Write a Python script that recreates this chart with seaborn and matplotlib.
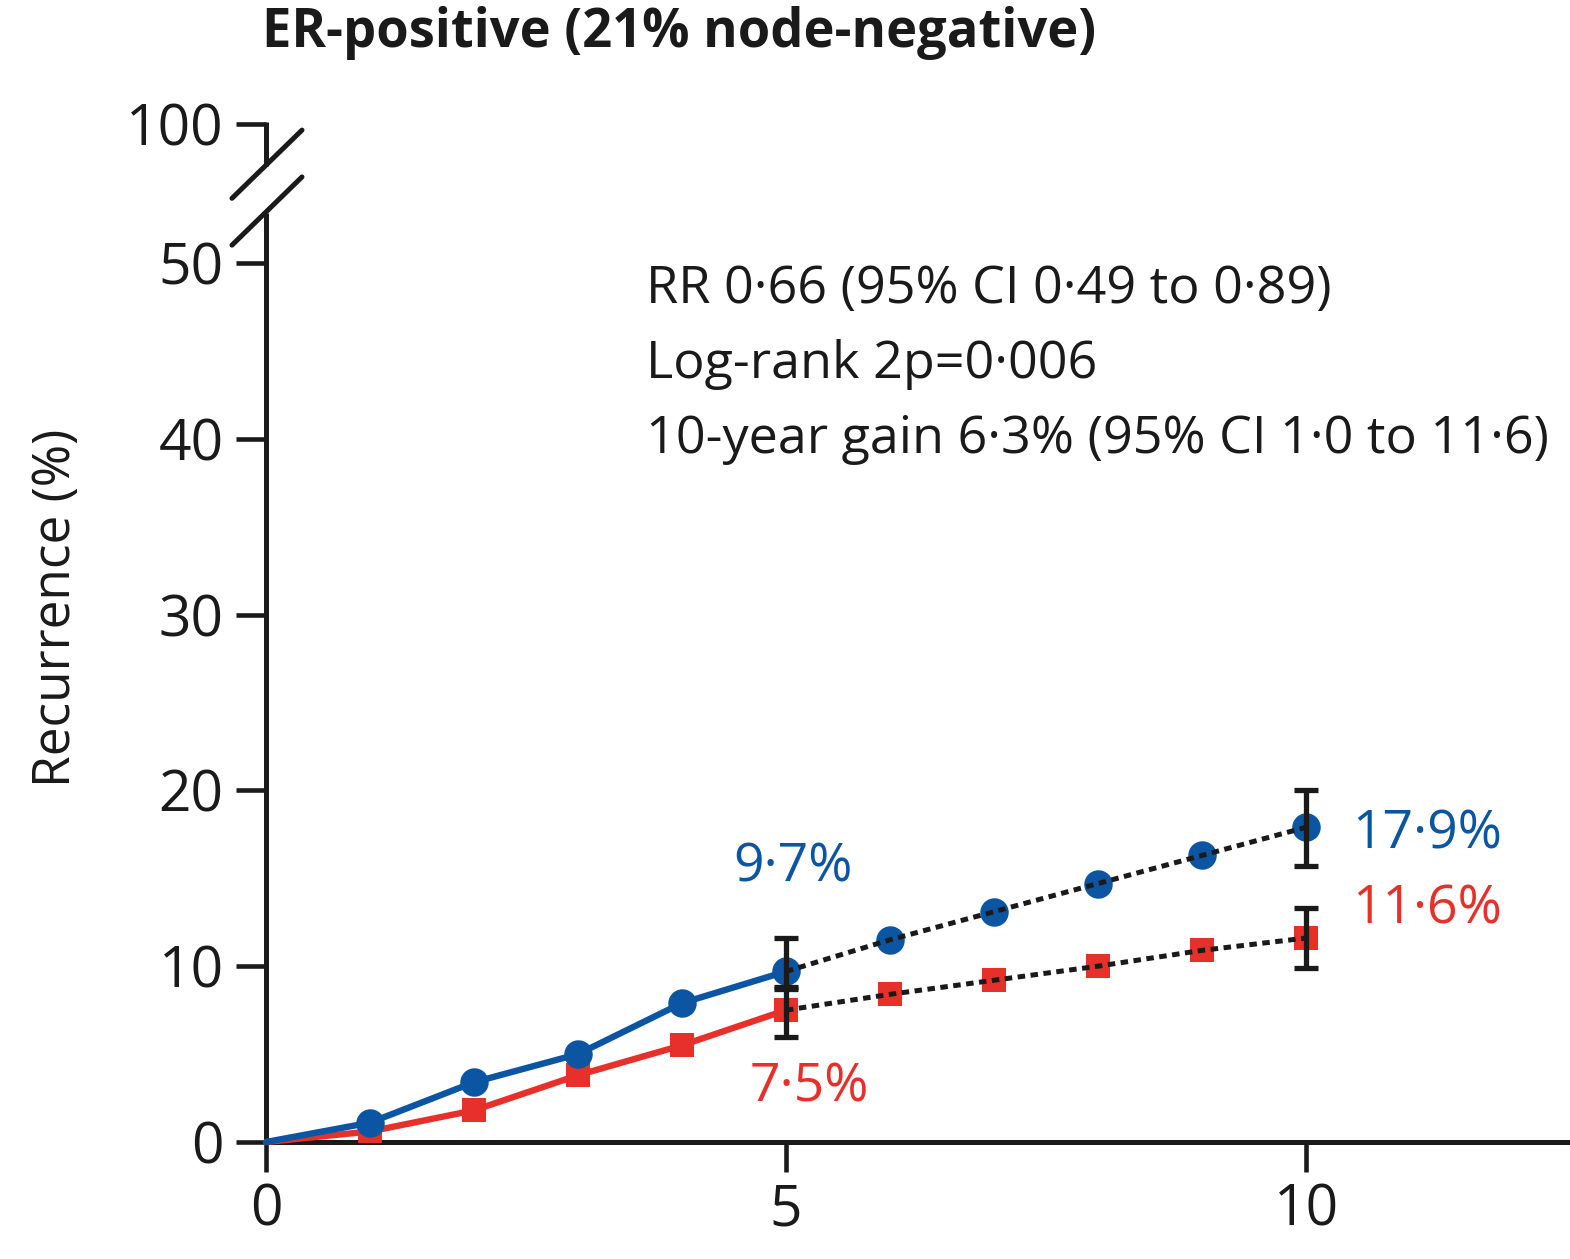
import numpy as np
import pandas as pd
import matplotlib
matplotlib.use("Agg")
import matplotlib.pyplot as plt
import seaborn as sns

# ---- data ----
years = [0, 1, 2, 3, 4, 5, 6, 7, 8, 9, 10]
control = [0, 1.1, 3.4, 5.0, 7.9, 9.7, 11.5, 13.1, 14.7, 16.3, 17.9]
treated = [0, 0.6, 1.8, 3.8, 5.5, 7.5, 8.4, 9.2, 10.0, 10.9, 11.6]
ci_years = [5, 10]
control_ci_low = [8.8, 15.7]
control_ci_high = [11.6, 20.0]
treated_ci_low = [6.0, 9.9]
treated_ci_high = [8.7, 13.3]
yticks = [0, 10, 20, 30, 40, 50, 100]
xticks = [0, 5, 10]
title = "ER-positive (21% node-negative)"
ylabel = "Recurrence (%)"
stats_lines = ["RR 0·66 (95% CI 0·49 to 0·89)",
               "Log-rank 2p=0·006",
               "10-year gain 6·3% (95% CI 1·0 to 11·6)"]
end_labels = {"c5": "9·7%", "t5": "7·5%", "c10": "17·9%", "t10": "11·6%"}

BLUE = "#0B55A3"
RED = "#E8302A"
BLACK = "#1a1a1a"

df = pd.DataFrame({"year": years, "control": control, "treated": treated})

sns.set_theme(style="white")
plt.rcParams["font.family"] = ["Open Sans", "DejaVu Sans"]

W, H = 1570, 1259
fig = plt.figure(figsize=(W / 100, H / 100), dpi=100)
ax = fig.add_axes([266 / W, (H - 1142) / H, (W - 266) / W, (1142 - 124) / H])

# broken y scale: linear to 50, compressed above
K = 7.9 / 50.0
def fwd(y):
    y = np.asarray(y, dtype=float)
    return np.where(y <= 50, y, 50 + (y - 50) * K)
def inv(v):
    v = np.asarray(v, dtype=float)
    return np.where(v <= 50, v, 50 + (v - 50) / K)
ax.set_yscale("function", functions=(fwd, inv))

solid = df[df.year <= 5]
dotted = df[df.year >= 5]
marks = df[df.year >= 1]

sns.lineplot(data=solid, x="year", y="control", color=BLUE, lw=4.6, ax=ax,
             zorder=4, clip_on=False)
sns.lineplot(data=solid, x="year", y="treated", color=RED, lw=4.6, ax=ax,
             zorder=3, clip_on=False)
sns.scatterplot(data=marks, x="year", y="treated", color=RED, marker="s",
                s=17.5 ** 2, linewidth=0, ax=ax, zorder=5, clip_on=False)
sns.scatterplot(data=marks, x="year", y="control", color=BLUE, marker="o",
                s=20.5 ** 2, linewidth=0, ax=ax, zorder=6, clip_on=False)
for col in ["control", "treated"]:
    sns.lineplot(data=dotted, x="year", y=col, color=BLACK, lw=3.6, ax=ax,
                 dashes=False, zorder=7, linestyle=(0, (1.5, 1.1)))

ax.errorbar(ci_years, [control[5], control[10]],
            yerr=[np.subtract([control[5], control[10]], control_ci_low),
                  np.subtract(control_ci_high, [control[5], control[10]])],
            fmt="none", ecolor=BLACK, elinewidth=3.8, capsize=8.5, capthick=3.8, zorder=8)
ax.errorbar(ci_years, [treated[5], treated[10]],
            yerr=[np.subtract([treated[5], treated[10]], treated_ci_low),
                  np.subtract(treated_ci_high, [treated[5], treated[10]])],
            fmt="none", ecolor=BLACK, elinewidth=3.8, capsize=8.5, capthick=3.8, zorder=8)

ax.set_xlim(0, (W - 266) / 104.0)
ax.set_ylim(0, 100)
ax.set_xticks(xticks)
ax.set_yticks(yticks)
ax.set_xticklabels([str(t) for t in xticks])
ax.set_yticklabels([str(t) for t in yticks])
ax.set_xlabel("")
ax.set_ylabel("")
ax.tick_params(axis="both", direction="out", length=21.5, width=3.3, color=BLACK,
               labelsize=41, labelcolor=BLACK)
ax.tick_params(axis="y", pad=9, left=True)
ax.tick_params(axis="x", pad=8, bottom=True)

for s in ["top", "right", "left"]:
    ax.spines[s].set_visible(False)
ax.spines["bottom"].set_linewidth(3.6)
ax.spines["bottom"].set_color(BLACK)
ax.spines["bottom"].set_zorder(2)

# left spine with break marks
ax.plot([0, 0], [0, 0.9126], transform=ax.transAxes, color=BLACK, lw=3.6,
        clip_on=False, solid_capstyle="butt")
ax.plot([0, 0], [0.9587, 1.002], transform=ax.transAxes, color=BLACK, lw=3.6,
        clip_on=False, solid_capstyle="butt")
ax.plot([-0.0261, 0.0276], [0.881, 0.948], transform=ax.transAxes, color=BLACK,
        lw=3.6, clip_on=False)
ax.plot([-0.0261, 0.0276], [0.927, 0.994], transform=ax.transAxes, color=BLACK,
        lw=3.6, clip_on=False)

# annotations
FS = 38.5
ax.text(5.07, 15.6, end_labels["c5"], color=BLUE, fontsize=FS, ha="center", va="center")
ax.text(5.22, 3.1, end_labels["t5"], color=RED, fontsize=FS, ha="center", va="center")
ax.text(10.44, 17.5, end_labels["c10"], color=BLUE, fontsize=FS, ha="left", va="center")
ax.text(10.44, 13.2, end_labels["t10"], color=RED, fontsize=FS, ha="left", va="center")

for i, line in enumerate(stats_lines):
    ax.text(3.65, (1142 - (290 + 75 * i)) / 17.58, line, color=BLACK, fontsize=37.5,
            ha="left", va="center")

fig.text(262 / W, 1 - 33 / H, title, fontsize=37.8, fontweight="bold", color=BLACK,
         ha="left", va="center")
fig.text(57 / W, 1 - 608 / H, ylabel, fontsize=37, rotation=90, color=BLACK,
         ha="center", va="center")

fig.savefig("out.png", dpi=100)
